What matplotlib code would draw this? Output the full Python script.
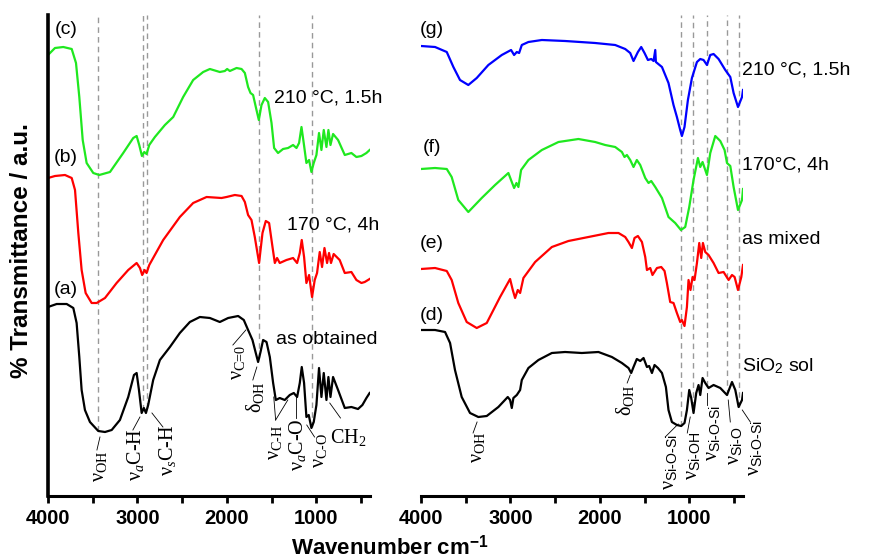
import numpy as np
import matplotlib.pyplot as plt

plt.rcParams['font.family'] = ['Liberation Sans', 'DejaVu Sans']
plt.rcParams['mathtext.fontset'] = 'custom'
plt.rcParams['mathtext.rm'] = 'Liberation Serif'
plt.rcParams['mathtext.it'] = 'Liberation Serif:italic'
plt.rcParams['mathtext.sf'] = 'Liberation Sans'
plt.rcParams['mathtext.bf'] = 'Liberation Sans:bold'

# ---- left panel spectra (wavenumber, transmittance a.u.) ----
wn_c = [4000, 3922, 3829, 3735, 3687, 3650, 3612, 3568, 3494, 3427,
        3307, 3159, 3047, 3009, 2980, 2950, 2924, 2898, 2868, 2805,
        2693, 2600, 2489, 2377, 2265, 2190, 2079, 2023, 1997, 1967,
        1892, 1836, 1799, 1763, 1736, 1707, 1669, 1643, 1613, 1576,
        1539, 1501, 1472, 1428, 1372, 1316, 1260, 1222, 1193, 1166,
        1141, 1111, 1081, 1055, 1029, 999, 970, 943, 917, 887,
        865, 842, 813, 757, 682, 608, 552, 496, 440, 404]
t_c = [441, 448, 449, 447, 433, 399, 356, 333, 323, 321,
       324, 343, 358, 360, 351, 340, 344, 342, 351, 359,
       371, 379, 399, 416, 424, 427, 424, 425, 427, 425,
       428, 427, 423, 409, 403, 401, 386, 376, 391, 398,
       394, 373, 348, 343, 347, 348, 351, 348, 353, 369,
       353, 333, 336, 324, 333, 341, 363, 346, 366, 349,
       366, 351, 362, 356, 341, 343, 339, 340, 343, 346]

wn_b = [4000, 3922, 3810, 3735, 3698, 3661, 3624, 3579, 3512, 3456,
        3363, 3233, 3103, 3009, 2972, 2947, 2920, 2898, 2868, 2712,
        2526, 2377, 2227, 2060, 2004, 1911, 1836, 1799, 1763, 1725,
        1688, 1640, 1602, 1565, 1528, 1490, 1464, 1439, 1409, 1334,
        1260, 1215, 1185, 1163, 1137, 1111, 1081, 1048, 1018, 992,
        962, 936, 909, 880, 858, 836, 806, 739, 682, 608,
        552, 496, 459, 404]
t_b = [318, 320, 321, 318, 306, 263, 226, 203, 193, 193,
       198, 213, 226, 233, 228, 221, 226, 223, 231, 256,
       279, 293, 299, 298, 299, 301, 300, 294, 281, 276,
       259, 233, 263, 275, 273, 249, 233, 238, 233, 236,
       238, 233, 243, 256, 239, 213, 221, 199, 216, 223,
       244, 229, 248, 233, 243, 233, 242, 236, 223, 224,
       216, 213, 214, 217]

wn_a = [4000, 3903, 3791, 3717, 3680, 3650, 3624, 3587, 3531, 3438,
        3363, 3288, 3196, 3103, 3039, 3009, 2983, 2953, 2928, 2905,
        2880, 2824, 2749, 2637, 2526, 2414, 2302, 2190, 2079, 1986,
        1874, 1811, 1763, 1714, 1677, 1651, 1624, 1595, 1557, 1520,
        1483, 1453, 1409, 1353, 1297, 1252, 1215, 1185, 1163, 1137,
        1111, 1085, 1055, 1029, 999, 970, 943, 917, 887, 865,
        842, 813, 757, 682, 608, 534, 485, 440, 404]
t_a = [189, 192, 192, 188, 173, 139, 106, 86, 74, 65,
       64, 66, 76, 99, 121, 123, 106, 83, 88, 83,
       91, 116, 136, 149, 163, 174, 179, 178, 174, 178,
       180, 176, 166, 156, 143, 134, 144, 156, 154, 139,
       113, 96, 98, 96, 101, 103, 99, 113, 129, 113,
       79, 81, 68, 74, 91, 128, 99, 123, 96, 119,
       99, 119, 106, 88, 89, 87, 91, 98, 103]

# ---- right panel spectra ----
wn_g = [4000, 3843, 3712, 3638, 3564, 3471, 3377, 3247, 3097, 2993,
        2959, 2929, 2903, 2873, 2799, 2649, 2389, 2053, 1829, 1717,
        1661, 1624, 1575, 1538, 1501, 1463, 1426, 1400, 1381, 1374,
        1306, 1233, 1177, 1139, 1102, 1083, 1054, 1016, 971, 915,
        878, 841, 803, 766, 729, 673, 598, 542, 505, 456,
        411, 400]
t_g = [450, 449, 444, 429, 416, 411, 418, 431, 441, 446,
       441, 444, 443, 451, 454, 456, 455, 453, 451, 447,
       443, 435, 444, 449, 443, 436, 437, 435, 446, 434,
       429, 413, 391, 379, 366, 360, 369, 396, 418, 434,
       437, 436, 431, 441, 442, 437, 426, 419, 403, 389,
       399, 406]

wn_f = [4000, 3843, 3712, 3657, 3583, 3471, 3321, 3172, 3023, 2985,
        2959, 2933, 2911, 2881, 2799, 2649, 2463, 2240, 2053, 1941,
        1829, 1754, 1725, 1698, 1661, 1624, 1587, 1549, 1493, 1456,
        1426, 1381, 1306, 1233, 1158, 1094, 1046, 1001, 953, 904,
        878, 852, 803, 766, 710, 654, 606, 579, 542, 505,
        456, 411, 400]
t_f = [327, 328, 327, 319, 296, 284, 298, 311, 323, 314,
       308, 313, 309, 326, 336, 346, 354, 357, 354, 351,
       349, 344, 339, 341, 336, 329, 336, 331, 318, 313,
       315, 309, 298, 279, 273, 266, 269, 289, 316, 338,
       329, 334, 321, 343, 360, 355, 346, 333, 330, 309,
       286, 296, 307]

wn_e = [4000, 3843, 3712, 3657, 3583, 3489, 3377, 3265, 3116, 3004,
        2974, 2948, 2918, 2892, 2855, 2724, 2537, 2352, 2128, 1904,
        1792, 1717, 1680, 1642, 1613, 1575, 1530, 1493, 1474, 1437,
        1412, 1362, 1314, 1277, 1251, 1214, 1177, 1139, 1102, 1083,
        1054, 1027, 1009, 987, 964, 942, 915, 889, 867, 848,
        822, 785, 729, 673, 617, 561, 523, 494, 456, 419,
        400]
t_e = [227, 228, 225, 216, 193, 174, 168, 173, 199, 217,
       206, 198, 206, 203, 218, 234, 249, 255, 259, 263,
       263, 259, 254, 248, 258, 260, 254, 239, 226, 228,
       221, 228, 229, 225, 213, 194, 193, 183, 174, 176,
       170, 189, 216, 206, 219, 216, 233, 253, 238, 253,
       244, 241, 233, 223, 224, 216, 221, 219, 206, 219,
       231]

wn_d = [4000, 3843, 3731, 3675, 3620, 3545, 3452, 3359, 3265, 3135,
        3030, 3004, 2985, 2967, 2929, 2892, 2873, 2799, 2687, 2537,
        2389, 2202, 2016, 1866, 1754, 1680, 1650, 1624, 1587, 1549,
        1512, 1474, 1449, 1418, 1389, 1351, 1306, 1262, 1233, 1195,
        1139, 1091, 1054, 1027, 1001, 979, 953, 923, 897, 878,
        852, 822, 785, 729, 654, 579, 523, 486, 449, 411,
        400]
t_d = [166, 166, 164, 153, 126, 99, 83, 79, 80, 89,
       99, 96, 88, 98, 101, 106, 116, 128, 136, 143,
       144, 143, 144, 139, 133, 128, 123, 129, 137, 135,
       138, 129, 130, 123, 131, 128, 123, 109, 86, 74,
       71, 70, 73, 86, 106, 98, 83, 103, 111, 101,
       118, 113, 108, 111, 108, 101, 114, 106, 89, 96,
       103]

bands_left = [3440, 2940, 2890, 1640, 1050]
bands_right = [1090, 964, 803, 579, 449]

green = '#1fe81f'
YTOP = 481

fig = plt.figure(figsize=(8.74, 5.58), dpi=100)
axL = fig.add_axes([48 / 874, 62 / 558, 322 / 874, 481 / 558])
axR = fig.add_axes([421 / 874, 62 / 558, 322 / 874, 481 / 558])

for ax in (axL, axR):
    ax.set_xlim(4000, 400)
    ax.set_ylim(0, YTOP)
    ax.set_xticks([4000, 3000, 2000, 1000])
    ax.set_xticks([3500, 2500, 1500, 500], minor=True)
    ax.tick_params(axis='x', which='both', direction='out', length=5, width=2,
                   labelsize=14.5, pad=4)
    ax.set_yticks([])
    for lab in ax.get_xticklabels():
        lab.set_fontweight('bold')
    ax.spines['top'].set_visible(False)
    ax.spines['right'].set_visible(False)
    ax.spines['bottom'].set_linewidth(2.2)
    ax.spines['left'].set_linewidth(2.6)
    ax.patch.set_alpha(0)
axR.spines['left'].set_visible(False)

dash = dict(color='#999999', lw=1.0, ls=(0, (4, 3)), zorder=1)
for w in bands_left:
    y0 = np.interp(w, wn_a[::-1], t_a[::-1])
    axL.plot([w, w], [y0, YTOP], **dash)
for w in bands_right:
    y0 = np.interp(w, wn_d[::-1], t_d[::-1])
    axR.plot([w, w], [y0, YTOP], **dash)

lw = 1.6
axL.plot(wn_c, t_c, color=green, lw=lw)
axL.plot(wn_b, t_b, color='red', lw=lw)
axL.plot(wn_a, t_a, color='black', lw=lw)
axR.plot(wn_g, t_g, color='blue', lw=lw)
axR.plot(wn_f, t_f, color=green, lw=lw)
axR.plot(wn_e, t_e, color='red', lw=lw)
axR.plot(wn_d, t_d, color='black', lw=lw)

fs = 14
for txt, y in [('(c)', 466), ('(b)', 338), ('(a)', 206)]:
    axL.text(3800, y, txt, fontsize=fs, ha='center', va='center')
for txt, y in [('(g)', 466), ('(f)', 348), ('(e)', 253), ('(d)', 181)]:
    axR.text(3877, y, txt, fontsize=fs, ha='center', va='center')

axL.text(1476, 398, '210 °C, 1.5h', fontsize=fs, va='center')
axL.text(1330, 271, '170 °C, 4h', fontsize=fs, va='center')
axL.text(1453, 156, 'as obtained', fontsize=fs, va='center')
axR.text(410, 426, '210 °C, 1.5h', fontsize=fs, va='center')
axR.text(410, 331, '170°C, 4h', fontsize=fs, va='center')
axR.text(410, 256, 'as mixed', fontsize=fs, va='center')
axR.text(410, 130, r'SiO$_{\mathsf{2}}$ sol', fontsize=fs, va='center')

afs = 14.5
def label(ax, x, y, s, segs, rot=90):
    ax.text(x, y, s, fontsize=afs, rotation=rot, ha='center', va='center')
    for (x1, y1, x2, y2) in segs:
        ax.plot([x1, x2], [y1, y2], color='black', lw=0.6, clip_on=False)

label(axL, 3419, 30, r'$\mathrm{\nu}_{\mathrm{OH}}$', [(3419, 59, 3453, 46)])
label(axL, 3017, 41, r'$\mathrm{\nu}_a\text{C-H}$', [(2972, 79, 3051, 66)])
label(axL, 2660, 46, r'$\mathrm{\nu}_s\text{C-H}$', [(2838, 83, 2715, 69)])
label(axL, 1878, 134, r'$\mathrm{\nu}_{\text{C=0}}$', [(1788, 166, 1933, 151)])
label(axL, 1688, 99, r'$\mathrm{\delta}_{\mathrm{OH}}$', [(1665, 129, 1710, 116)])
label(axL, 1465, 54, r'$\mathrm{\nu}_{\text{C-H}}$',
      [(1455, 76, 1476, 99), (1455, 76, 1319, 96)])
label(axL, 1215, 51, r'$\mathrm{\nu}_a\text{C-O}$', [(1230, 99, 1230, 78)])
label(axL, 960, 46, r'$\mathrm{\nu}_{\text{C-O}}$', [(1107, 71, 1020, 59)])
label(axL, 640, 59, r'$\text{CH}_{\mathrm{2}}$', [(850, 93, 730, 78)], rot=0)

label(axR, 3373, 49, r'$\mathrm{\nu}_{\mathrm{OH}}$', [(3373, 74, 3418, 63)])
label(axR, 1717, 96, r'$\mathrm{\delta}_{\mathrm{OH}}$', [(1661, 121, 1695, 113)])
label(axR, 1225, 34, r'$\mathrm{\nu}_{\mathsf{Si\text{-}O\text{-}Si}}$',
      [(1124, 72, 1270, 59)])
label(axR, 967, 40, r'$\mathrm{\nu}_{\mathsf{Si\text{-}OH}}$', [(990, 79, 1023, 63)])
label(axR, 744, 63, r'$\mathrm{\nu}_{\mathsf{Si\text{-}O\text{-}Si}}$',
      [(800, 103, 800, 91)])
label(axR, 498, 50, r'$\mathrm{\nu}_{\mathsf{Si\text{-}O}}$', [(565, 96, 542, 74)])
label(axR, 274, 48, r'$\mathrm{\nu}_{\mathsf{Si\text{-}O\text{-}Si}}$',
      [(408, 86, 318, 74)])

fig.text(22 / 874, 1 - 251 / 558, '% Transmittance / a.u.', rotation=90,
         fontsize=17.5, fontweight='bold', ha='center', va='center')
fig.text(390 / 874, 1 - 547 / 558, r'Wavenumber cm$^{\mathbf{-1}}$',
         fontsize=16, fontweight='bold', ha='center', va='center')

fig.savefig('out.png', dpi=100)
